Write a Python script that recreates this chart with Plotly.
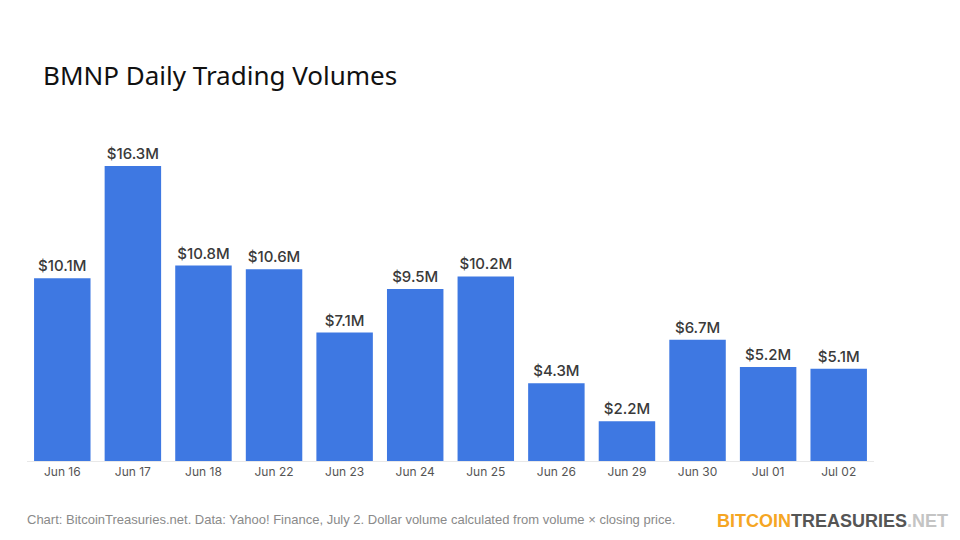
import plotly.graph_objects as go

dates = ["Jun 16", "Jun 17", "Jun 18", "Jun 22", "Jun 23", "Jun 24", "Jun 25",
         "Jun 26", "Jun 29", "Jun 30", "Jul 01", "Jul 02"]
volumes_m = [10.1, 16.3, 10.8, 10.6, 7.1, 9.5, 10.2, 4.3, 2.2, 6.7, 5.2, 5.1]
labels = [f"${v:.1f}M" for v in volumes_m]

title = "BMNP Daily Trading Volumes"
footer = "Chart: BitcoinTreasuries.net. Data: Yahoo! Finance, July 2. Dollar volume calculated from volume × closing price."

L, R, T, B = 27, 86, 130, 79
W, H = 960, 540
pw, ph = W - L - R, H - T - B


def px(x):
    return (x - L) / pw


def py(y):
    return (H - B - y) / ph


fig = go.Figure(go.Bar(
    x=dates, y=volumes_m, text=labels, textposition="outside",
    textfont=dict(family="Inter, Open Sans, sans-serif", size=15, color="#3a3a3a", weight=500),
    marker=dict(color="#3e78e2", line=dict(width=0)),
    cliponaxis=False,
))

fig.update_layout(
    width=W, height=H,
    margin=dict(l=L, r=R, t=T, b=B),
    paper_bgcolor="white", plot_bgcolor="white",
    bargap=0.2,
    showlegend=False,
    uniformtext=dict(minsize=15, mode="show"),
    xaxis=dict(showgrid=False, showline=True, linecolor="#e8e8e8", linewidth=1,
               ticks="", tickfont=dict(family="Inter, Open Sans, sans-serif", size=12, color="#555555")),
    yaxis=dict(range=[0, 18.29], visible=False, showgrid=False, zeroline=False),
    annotations=[
        dict(text=title, x=px(41), y=py(75), xref="paper", yref="paper", showarrow=False,
             xanchor="left", yanchor="middle",
             font=dict(family="Noto Sans, sans-serif", size=26, color="#111111")),
        dict(text=footer, x=px(25), y=py(519), xref="paper", yref="paper", showarrow=False,
             xanchor="left", yanchor="middle",
             font=dict(family="Liberation Sans, Arial, sans-serif", size=13, color="#8a8a8a")),
        dict(text="<b><span style='color:#f5a623'>BITCOIN</span><span style='color:#555555'>TREASURIES</span><span style='color:#c4c4c4'>.NET</span></b>",
             x=px(950), y=py(521), xref="paper", yref="paper", showarrow=False,
             xanchor="right", yanchor="middle",
             font=dict(family="Liberation Sans, Arial, sans-serif", size=18)),
    ],
)

fig.write_html("out.html")
